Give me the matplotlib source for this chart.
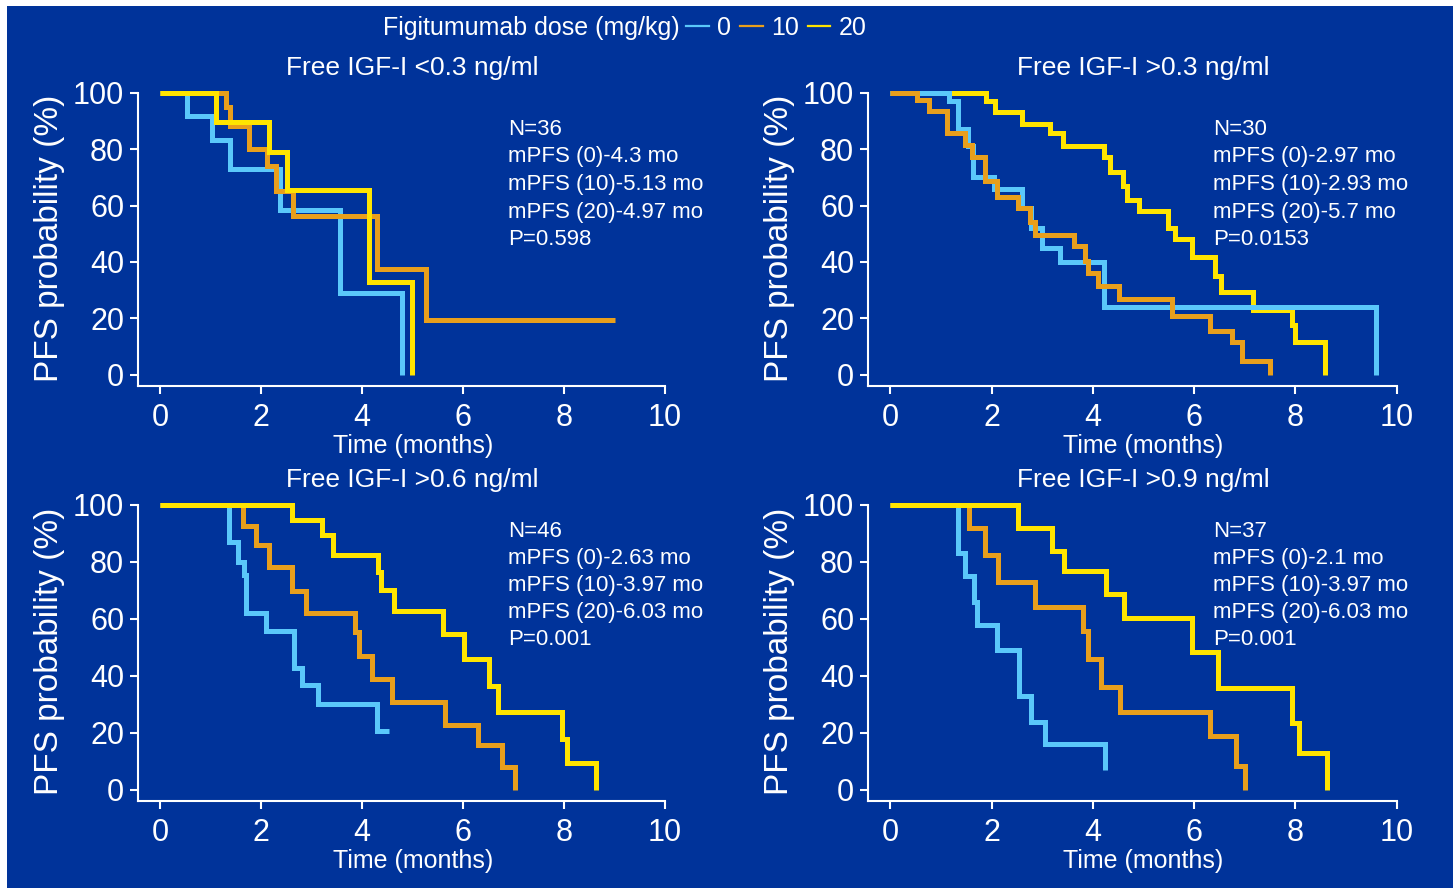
import matplotlib.pyplot as plt
from matplotlib.lines import Line2D
from matplotlib.patches import Rectangle

plt.rcParams['font.family'] = ['Liberation Sans', 'DejaVu Sans']

BG = '#00339a'
colors = ['#5ac8fa', '#e89f1c', '#ffe500']
doses = ['0', '10', '20']

titles = ['Free IGF-I <0.3 ng/ml', 'Free IGF-I >0.3 ng/ml',
          'Free IGF-I >0.6 ng/ml', 'Free IGF-I >0.9 ng/ml']

# Free IGF-I <0.3
p1_t0 = [0, 0.53, 1.03, 1.39, 2.37, 3.56, 4.78]
p1_s0 = [100, 91.7, 83.3, 73, 58.3, 29.2, 0]
p1_t10 = [0, 1.30, 1.39, 1.76, 2.12, 2.30, 2.62, 4.29, 5.26, 9.0]
p1_s10 = [100, 95, 88, 80, 74, 65, 56.3, 37.5, 19.5, 19.5]
p1_t20 = [0, 1.10, 2.15, 2.51, 4.13, 4.99]
p1_s20 = [100, 89.5, 78.8, 65.6, 32.9, 0]

# Free IGF-I >0.3
p2_t0 = [0, 1.15, 1.33, 1.54, 1.64, 2.05, 2.60, 2.78, 3.00, 3.35, 4.23, 9.6]
p2_s0 = [100, 97, 87, 81, 70, 66, 59, 52, 45, 40, 24, 0]
p2_t10 = [0, 0.53, 0.76, 1.12, 1.48, 1.61, 1.87, 2.10, 2.53, 2.76, 2.86,
          3.62, 3.85, 3.90, 4.11, 4.52, 5.56, 6.31, 6.74, 6.94, 7.50]
p2_s10 = [100, 97.5, 93.5, 85.5, 81.5, 77, 68.5, 63, 59, 54, 49.5,
          45.5, 40.5, 36, 31.5, 27, 21, 15.5, 11.5, 5, 0]
p2_t20 = [0, 1.89, 2.07, 2.60, 3.16, 3.42, 4.22, 4.33, 4.59, 4.67, 4.92,
          5.48, 5.62, 5.95, 6.41, 6.54, 7.17, 7.94, 8.0, 8.58]
p2_s20 = [100, 97, 93, 89, 85.5, 81, 77, 72, 67, 62, 58,
          52, 48, 41.7, 35.2, 29.3, 23, 17.7, 11.8, 0]

# Free IGF-I >0.6
p3_t0 = [0, 1.37, 1.53, 1.65, 1.70, 2.10, 2.64, 2.80, 3.12, 4.29, 4.54]
p3_s0 = [100, 87, 80, 75.5, 62, 55.7, 42.7, 36.8, 30.3, 20.7, 20.7]
p3_t10 = [0, 1.64, 1.89, 2.15, 2.60, 2.88, 3.85, 3.94, 4.20, 4.58, 5.63,
          6.29, 6.77, 7.02]
p3_s10 = [100, 92.7, 86, 78.3, 69.7, 62, 55.3, 47, 39, 30.7, 22.8,
          15.9, 8, 0]
p3_t20 = [0, 2.60, 3.21, 3.42, 4.31, 4.38, 4.63, 5.60, 6.02, 6.51, 6.68,
          7.95, 8.06, 8.63]
p3_s20 = [100, 94.8, 89.4, 82.6, 76.5, 70, 62.8, 54.7, 46, 36.6, 27.2,
          17.7, 9.4, 0]

# Free IGF-I >0.9
p4_t0 = [0, 1.33, 1.48, 1.65, 1.72, 2.11, 2.55, 2.78, 3.06, 4.24]
p4_s0 = [100, 83, 75, 66, 58, 49, 33, 24, 16, 7]
p4_t10 = [0, 1.56, 1.88, 2.13, 2.85, 3.80, 3.90, 4.17, 4.53, 6.31, 6.82, 7.0]
p4_s10 = [100, 92, 82.3, 72.8, 64.1, 55.7, 46, 36.2, 27.2, 18.9, 8.5, 0]
p4_t20 = [0, 2.53, 3.20, 3.43, 4.27, 4.61, 5.96, 6.47, 7.93, 8.07, 8.63]
p4_s20 = [100, 92, 84, 76.7, 68.7, 60.2, 48.4, 35.7, 23.6, 13, 0]

p1_text = ['N=36', 'mPFS (0)-4.3 mo', 'mPFS (10)-5.13 mo', 'mPFS (20)-4.97 mo', 'P=0.598']
p2_text = ['N=30', 'mPFS (0)-2.97 mo', 'mPFS (10)-2.93 mo', 'mPFS (20)-5.7 mo', 'P=0.0153']
p3_text = ['N=46', 'mPFS (0)-2.63 mo', 'mPFS (10)-3.97 mo', 'mPFS (20)-6.03 mo', 'P=0.001']
p4_text = ['N=37', 'mPFS (0)-2.1 mo', 'mPFS (10)-3.97 mo', 'mPFS (20)-6.03 mo', 'P=0.001']

panels = [
    ([(p1_t0, p1_s0), (p1_t10, p1_s10), (p1_t20, p1_s20)], [0, 1, 2], p1_text, 6.89, 87),
    ([(p2_t0, p2_s0), (p2_t10, p2_s10), (p2_t20, p2_s20)], [2, 0, 1], p2_text, 6.37, 87),
    ([(p3_t0, p3_s0), (p3_t10, p3_s10), (p3_t20, p3_s20)], [0, 1, 2], p3_text, 6.89, 90.8),
    ([(p4_t0, p4_s0), (p4_t10, p4_s10), (p4_t20, p4_s20)], [0, 1, 2], p4_text, 6.37, 90.8),
]

fig = plt.figure(figsize=(14.53, 8.88), dpi=100)
fig.patch.set_facecolor('white')
fig.add_artist(Rectangle((7 / 1453, 0), 1, 1 - 6 / 888, transform=fig.transFigure,
                         facecolor=BG, edgecolor='none', zorder=-5))

positions = [[0.095, 0.565, 0.368, 0.334], [0.5974, 0.565, 0.369, 0.334],
             [0.095, 0.0976, 0.368, 0.337], [0.5974, 0.0976, 0.369, 0.337]]

for i, (curves, order, lines, tx, ty) in enumerate(panels):
    ax = fig.add_axes(positions[i])
    ax.set_facecolor(BG)
    for k in order:
        t, s = curves[k]
        ax.step(t, s, where='post', color=colors[k], lw=3.6,
                solid_joinstyle='miter', solid_capstyle='butt', clip_on=False)
    ax.set_xlim(-0.44, 10.15)
    ax.set_ylim(-4, 101)
    ax.set_xticks(range(0, 11, 2))
    ax.set_yticks(range(0, 101, 20))
    for side in ['top', 'right']:
        ax.spines[side].set_visible(False)
    ax.spines['left'].set_bounds(-4, 100)
    ax.spines['bottom'].set_bounds(-0.44, 10)
    for side in ['left', 'bottom']:
        ax.spines[side].set_color('white')
        ax.spines[side].set_linewidth(1.5)
    ax.tick_params(colors='white', labelsize=22, length=6, width=1.5, pad=4)
    ax.tick_params(axis='x', pad=6)
    ax.set_xlabel('Time (months)', color='white', fontsize=18)
    ax.xaxis.set_label_coords(0.514, -0.2)
    ax.xaxis.label.set_va('center')
    ax.set_ylabel('PFS probability (%)', color='white', fontsize=24)
    ax.yaxis.set_label_coords(-0.165, 0.5)
    ax.yaxis.label.set_va('center')
    ax.text(5, 108.6, titles[i], color='white', fontsize=19, ha='center', va='center')
    step = 9.8 if i < 2 else 9.5
    for j, line in enumerate(lines):
        ax.text(tx, ty - j * step, line, color='white', fontsize=16, va='center')

fig.text(680 / 1453, 1 - 28 / 888, 'Figitumumab dose (mg/kg)', color='white',
         fontsize=18, ha='right', va='center')
handles = [Line2D([], [], color=c, lw=1.6) for c in colors]
fig.legend(handles, doses, loc='center left', bbox_to_anchor=(686 / 1453, 1 - 28 / 888),
           ncol=3, frameon=False, fontsize=18, labelcolor='white', handlelength=0.9,
           handletextpad=0.35, columnspacing=0.35, borderpad=0, borderaxespad=0)

fig.savefig('out.png', dpi=100, facecolor=fig.get_facecolor())
